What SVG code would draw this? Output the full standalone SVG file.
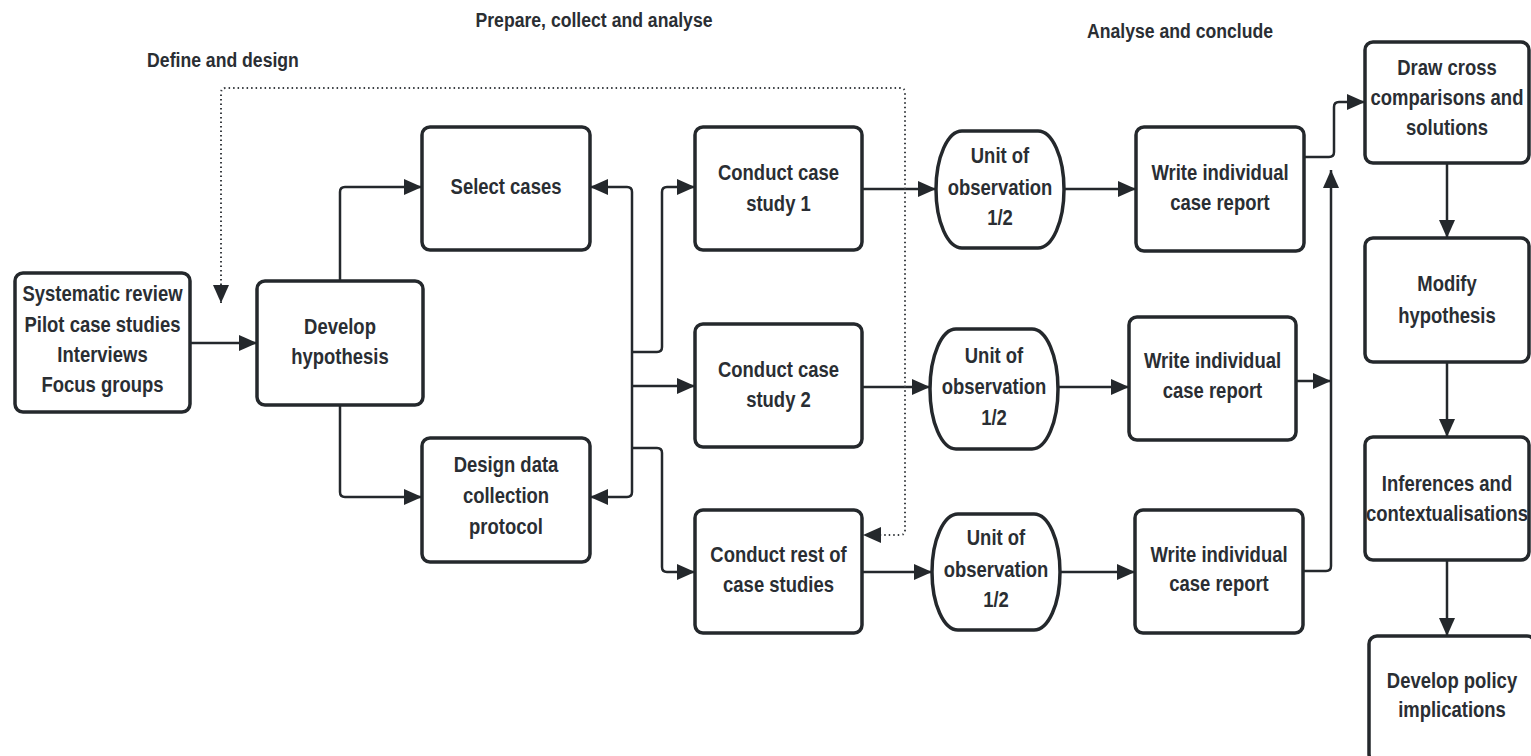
<svg xmlns="http://www.w3.org/2000/svg" width="1531" height="756" viewBox="0 0 1531 756">
<style>
.bg{fill:#ffffff}
.box{fill:#ffffff;stroke:#24282c;stroke-width:3.5}
.t{font-family:"Liberation Sans",Arial,sans-serif;font-weight:bold;font-size:22px;fill:#2a2e33;text-anchor:middle}
.h{font-family:"Liberation Sans",Arial,sans-serif;font-weight:bold;font-size:21px;fill:#2a2e33;text-anchor:middle}
.c{fill:none;stroke:#24282c;stroke-width:2.5}
.d{fill:none;stroke:#3a3e42;stroke-width:2;stroke-dasharray:1.5 3}
</style>
<defs>
<marker id="ah" markerUnits="userSpaceOnUse" markerWidth="18" markerHeight="16" viewBox="0 0 18 16" refX="18" refY="8" orient="auto-start-reverse">
<path d="M0,0 L18,8 L0,16 z" fill="#24282c"/>
</marker>
</defs>
<rect class="bg" x="0" y="0" width="1531" height="756"/>

<g id="headers">
<text class="h" transform="translate(223 0) scale(0.84 1)" x="0" y="67">Define and design</text>
<text class="h" transform="translate(594 0) scale(0.84 1)" x="0" y="27">Prepare, collect and analyse</text>
<text class="h" transform="translate(1180 0) scale(0.84 1)" x="0" y="38">Analyse and conclude</text>
</g>

<g id="connectors">
<path class="c" d="M190,343 H257" marker-end="url(#ah)"/>
<path class="c" d="M340,281 V192 Q340,187 345,187 H422" marker-end="url(#ah)"/>
<path class="c" d="M340,405 V492 Q340,497 345,497 H422" marker-end="url(#ah)"/>
<path class="c" d="M632,352 V192 Q632,187 627,187 H590" marker-end="url(#ah)"/>
<path class="c" d="M632,352 V492 Q632,497 627,497 H590" marker-end="url(#ah)"/>
<path class="c" d="M632,352 H657 Q662,352 662,347 V192 Q662,187 667,187 H695" marker-end="url(#ah)"/>
<path class="c" d="M632,386 H695" marker-end="url(#ah)"/>
<path class="c" d="M632,448 H657 Q662,448 662,453 V567 Q662,572 667,572 H695" marker-end="url(#ah)"/>
<path class="c" d="M862,189 H936" marker-end="url(#ah)"/>
<path class="c" d="M1064,189 H1136" marker-end="url(#ah)"/>
<path class="c" d="M862,387 H930" marker-end="url(#ah)"/>
<path class="c" d="M1058,387 H1129" marker-end="url(#ah)"/>
<path class="c" d="M862,572 H932" marker-end="url(#ah)"/>
<path class="c" d="M1060,572 H1135" marker-end="url(#ah)"/>
<path class="c" d="M1304,157 H1329 Q1334,157 1334,152 V107 Q1334,102 1339,102 H1365" marker-end="url(#ah)"/>
<path class="c" d="M1303,571 H1326 Q1331,571 1331,566 V170" marker-end="url(#ah)"/>
<path class="c" d="M1296,381 H1331" marker-end="url(#ah)"/>
<path class="c" d="M1447,163 V238" marker-end="url(#ah)"/>
<path class="c" d="M1447,362 V437" marker-end="url(#ah)"/>
<path class="c" d="M1447,560 V636" marker-end="url(#ah)"/>
<path class="d" d="M221,303 V93 Q221,88 226,88 H900 Q905,88 905,93 V530 Q905,535 900,535 H863" marker-start="url(#ah)" marker-end="url(#ah)"/>
</g>

<g id="n-sources">
<rect class="box" x="15" y="273" width="175" height="139" rx="8"/>
<text class="t" transform="translate(102.5 0) scale(0.84 1)"><tspan x="0" y="301">Systematic review</tspan><tspan x="0" y="332">Pilot case studies</tspan><tspan x="0" y="362">Interviews</tspan><tspan x="0" y="392">Focus groups</tspan></text>
</g>
<g id="n-develop-hypothesis">
<rect class="box" x="257" y="281" width="166" height="124" rx="8"/>
<text class="t" transform="translate(340 0) scale(0.84 1)"><tspan x="0" y="334">Develop</tspan><tspan x="0" y="364">hypothesis</tspan></text>
</g>
<g id="n-select-cases">
<rect class="box" x="422" y="127" width="168" height="123" rx="8"/>
<text class="t" transform="translate(506 0) scale(0.84 1)"><tspan x="0" y="194">Select cases</tspan></text>
</g>
<g id="n-design-protocol">
<rect class="box" x="422" y="438" width="168" height="124" rx="8"/>
<text class="t" transform="translate(506 0) scale(0.84 1)"><tspan x="0" y="472">Design data</tspan><tspan x="0" y="503">collection</tspan><tspan x="0" y="534">protocol</tspan></text>
</g>
<g id="n-case1">
<rect class="box" x="695" y="127" width="167" height="123" rx="8"/>
<text class="t" transform="translate(778.5 0) scale(0.84 1)"><tspan x="0" y="180">Conduct case</tspan><tspan x="0" y="211">study 1</tspan></text>
</g>
<g id="n-case2">
<rect class="box" x="695" y="324" width="167" height="123" rx="8"/>
<text class="t" transform="translate(778.5 0) scale(0.84 1)"><tspan x="0" y="377">Conduct case</tspan><tspan x="0" y="407">study 2</tspan></text>
</g>
<g id="n-case-rest">
<rect class="box" x="695" y="510" width="167" height="123" rx="8"/>
<text class="t" transform="translate(778.5 0) scale(0.84 1)"><tspan x="0" y="562">Conduct rest of</tspan><tspan x="0" y="592">case studies</tspan></text>
</g>
<g id="n-unit1">
<rect class="box" x="936" y="131" width="128" height="117" rx="26" ry="58.5"/>
<text class="t" transform="translate(1000 0) scale(0.84 1)"><tspan x="0" y="163">Unit of</tspan><tspan x="0" y="195">observation</tspan><tspan x="0" y="225">1/2</tspan></text>
</g>
<g id="n-unit2">
<rect class="box" x="930" y="329" width="128" height="120" rx="26" ry="60"/>
<text class="t" transform="translate(994 0) scale(0.84 1)"><tspan x="0" y="363">Unit of</tspan><tspan x="0" y="394">observation</tspan><tspan x="0" y="425">1/2</tspan></text>
</g>
<g id="n-unit3">
<rect class="box" x="932" y="514" width="128" height="116" rx="26" ry="58"/>
<text class="t" transform="translate(996 0) scale(0.84 1)"><tspan x="0" y="545">Unit of</tspan><tspan x="0" y="577">observation</tspan><tspan x="0" y="607">1/2</tspan></text>
</g>
<g id="n-report1">
<rect class="box" x="1136" y="127" width="168" height="124" rx="8"/>
<text class="t" transform="translate(1220 0) scale(0.84 1)"><tspan x="0" y="180">Write individual</tspan><tspan x="0" y="210">case report</tspan></text>
</g>
<g id="n-report2">
<rect class="box" x="1129" y="317" width="167" height="123" rx="8"/>
<text class="t" transform="translate(1212.5 0) scale(0.84 1)"><tspan x="0" y="368">Write individual</tspan><tspan x="0" y="398">case report</tspan></text>
</g>
<g id="n-report3">
<rect class="box" x="1135" y="510" width="168" height="123" rx="8"/>
<text class="t" transform="translate(1219 0) scale(0.84 1)"><tspan x="0" y="562">Write individual</tspan><tspan x="0" y="591">case report</tspan></text>
</g>
<g id="n-cross-comparisons">
<rect class="box" x="1365" y="42" width="164" height="121" rx="8"/>
<text class="t" transform="translate(1447 0) scale(0.84 1)"><tspan x="0" y="75">Draw cross</tspan><tspan x="0" y="105">comparisons and</tspan><tspan x="0" y="135">solutions</tspan></text>
</g>
<g id="n-modify-hypothesis">
<rect class="box" x="1365" y="238" width="164" height="124" rx="8"/>
<text class="t" transform="translate(1447 0) scale(0.84 1)"><tspan x="0" y="291">Modify</tspan><tspan x="0" y="323">hypothesis</tspan></text>
</g>
<g id="n-inferences">
<rect class="box" x="1365" y="437" width="164" height="123" rx="8"/>
<text class="t" transform="translate(1447 0) scale(0.84 1)"><tspan x="0" y="491">Inferences and</tspan><tspan x="0" y="521">contextualisations</tspan></text>
</g>
<g id="n-policy">
<rect class="box" x="1369" y="636" width="166" height="126" rx="8"/>
<text class="t" transform="translate(1452 0) scale(0.84 1)"><tspan x="0" y="688">Develop policy</tspan><tspan x="0" y="717">implications</tspan></text>
</g>
</svg>
